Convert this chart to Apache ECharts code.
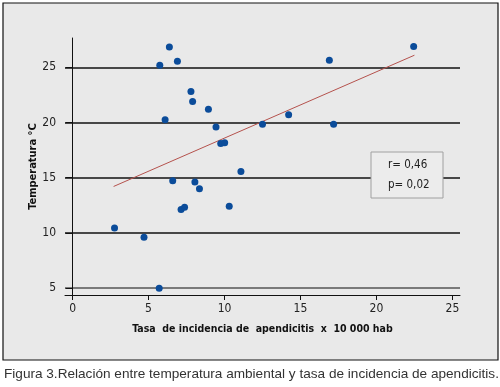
<!DOCTYPE html>
<html>
<head>
<meta charset="utf-8">
<script src="https://cdn.jsdelivr.net/npm/echarts@6/dist/echarts.min.js"></script>
<style>
  html, body { margin: 0; padding: 0; background: #fff; }
  #chart { width: 500px; height: 387px; }
</style>
</head>
<body>
<div id="chart"></div>
<script>
  // tasa de incidencia x 10 000 hab
  var tasa = [6.37, 5.74, 6.9, 7.79, 7.9, 8.94, 6.09, 9.44, 9.75, 10.01, 11.08, 6.59, 8.05, 8.35,
              7.14, 7.37, 10.31, 2.76, 4.7, 5.7, 22.45, 16.9, 14.22, 12.5, 17.18];
  // temperatura °C
  var temp = [26.85, 25.2, 25.55, 22.8, 21.9, 21.2, 20.25, 19.6, 18.1, 18.17, 15.56, 14.71, 14.6, 14.0,
              12.11, 12.32, 12.41, 10.44, 9.6, 4.97, 26.9, 25.64, 20.7, 19.83, 19.83];
  var ajusteX = [2.7, 22.5];
  var ajusteY = [14.2, 26.1];
  var xTicks = [0, 5, 10, 15, 20, 25];
  var yTicks = [5, 10, 15, 20, 25];
  var stats = ['r= 0,46', 'p= 0,02'];

  var chart = echarts.init(document.getElementById('chart'));
  var narrow = '"DejaVu Sans Condensed", "Liberation Sans", Arial, sans-serif';

  var puntos = tasa.map(function (v, i) { return [v, temp[i]]; });
  var linea = ajusteX.map(function (v, i) { return [v, ajusteY[i]]; });

  var option = {
    animation: false,
    backgroundColor: '#fff',
    grid: { left: 65, right: 40, top: 38, bottom: 92 },
    graphic: [
      {
        type: 'rect', z: -10, silent: true,
        shape: { x: 3, y: 3, width: 495, height: 357 },
        style: { fill: '#e9e9e9', stroke: '#111', lineWidth: 1.2 }
      },
      {
        type: 'rect', z: 10, silent: true,
        shape: { x: 371, y: 152, width: 72, height: 46 },
        style: { fill: '#ececec', stroke: '#a0a0a0', lineWidth: 1 }
      },
      {
        type: 'text', z: 11, left: 388, top: 159,
        style: { text: stats[0], font: '11.5px ' + narrow, fill: '#222' }
      },
      {
        type: 'text', z: 11, left: 388, top: 179,
        style: { text: stats[1], font: '11.5px ' + narrow, fill: '#222' }
      },
      {
        type: 'text', left: 4, top: 367,
        style: {
          text: 'Figura 3.Relación entre temperatura ambiental y tasa de incidencia de apendicitis.',
          font: '13.6px "Liberation Sans", Arial, sans-serif', fill: '#333'
        }
      }
    ],
    xAxis: {
      type: 'value',
      min: -0.5,
      max: 25.5,
      name: 'Tasa  de incidencia de  apendicitis  x  10 000 hab',
      nameLocation: 'middle',
      nameGap: 29,
      nameMoveOverlap: false,
      nameTextStyle: { fontFamily: narrow, fontWeight: 'bold', fontSize: 10.5, color: '#111' },
      axisLine: { show: true, lineStyle: { color: '#111', width: 1 } },
      axisTick: { show: true, inside: false, length: 5, customValues: xTicks, lineStyle: { color: '#111' } },
      axisLabel: { customValues: xTicks, margin: 8, fontFamily: narrow, fontSize: 12, color: '#222' },
      splitLine: { show: false }
    },
    yAxis: {
      type: 'value',
      min: 4.36,
      max: 27.66,
      name: 'Temperatura °C',
      nameLocation: 'middle',
      nameGap: 26,
      nameMoveOverlap: false,
      nameTextStyle: { fontFamily: narrow, fontWeight: 'bold', fontSize: 11, color: '#111' },
      axisLine: { show: true, lineStyle: { color: '#111', width: 1 } },
      axisTick: { show: true, inside: false, length: 7, customValues: yTicks, lineStyle: { color: '#111' } },
      axisLabel: { customValues: yTicks, margin: 9, fontFamily: narrow, fontSize: 12, color: '#222' },
      splitLine: { show: true, lineStyle: { color: ['#555', '#111', '#111', '#111', '#111'], width: 1.5 } }
    },
    series: [
      {
        type: 'line',
        data: linea,
        symbol: 'none',
        lineStyle: { color: '#b5524d', width: 1 },
        z: 3
      },
      {
        type: 'scatter',
        data: puntos,
        symbolSize: 7,
        itemStyle: { color: '#0b4c9a', opacity: 1 },
        z: 4
      }
    ]
  };
  chart.setOption(option);
</script>
</body>
</html>
